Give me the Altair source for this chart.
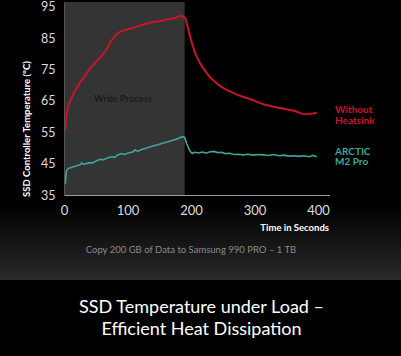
import altair as alt
import pandas as pd

# ---- data ----
red_t = [2, 3, 4, 7, 12, 18, 25, 33, 41, 50, 57, 65, 75, 82, 88, 100, 110, 122, 135, 150, 162, 175, 183, 188, 191,
         195, 198, 202, 206, 210, 214, 222, 230, 238, 246, 254, 261, 270, 280, 288, 298, 306, 314, 322, 330, 340,
         350, 358, 366, 372, 378, 385, 392, 398]
red_v = [55.5, 58, 61, 63.5, 66, 68.5, 70.8, 73, 75.3, 77.3, 78.8, 80.8, 84.3, 86, 87, 87.8, 88.3, 89.2, 89.9, 90.4,
         90.9, 91.4, 92.1, 91.9, 91.3, 88.5, 85.8, 83, 80.5, 78.6, 77.1, 74.6, 72.5, 71, 69.7, 68.7, 68, 67.2, 66.4,
         65.9, 65.2, 64.5, 63.9, 63.5, 63.1, 62.7, 62.3, 62, 61.6, 61.1, 60.7, 60.8, 61, 61.2]

teal_t = [2, 3, 4, 7, 10, 15, 20, 25, 28, 30, 35, 40, 45, 50, 57, 62, 68, 75, 80, 83, 90, 95, 100, 109, 112, 116,
          122, 128, 135, 140, 148, 155, 162, 170, 177, 183, 188, 190, 193, 196, 199, 202, 206, 212, 218, 224, 230,
          236, 242, 248, 254, 261, 268, 275, 282, 290, 298, 306, 314, 322, 330, 338, 346, 354, 362, 370, 378, 386,
          392, 398]
teal_v = [38.5, 41, 42.8, 43.5, 43.7, 44, 44.3, 44.6, 45.2, 44.8, 45, 45.3, 45.2, 45.8, 46.4, 46.2, 46.8, 47.2, 47,
          47.6, 48.2, 47.9, 48.3, 48.8, 49.4, 48.9, 49.5, 49.8, 50.3, 50.6, 51, 51.5, 51.9, 52.4, 52.8, 53.3, 53.6,
          53.3, 51.5, 50, 48.8, 48.3, 48.6, 48.4, 48.7, 48.3, 48.8, 48.9, 48.5, 48.6, 48.2, 48.3, 47.9, 48, 47.8,
          48, 47.7, 47.9, 47.8, 47.6, 47.9, 47.5, 47.7, 47.4, 47.5, 47.3, 47.5, 47.2, 47.6, 47.2]

write_start = [0]
write_end = [190]
write_low = [35]
write_high = [96.5]
y_ticks = [35, 45, 55, 65, 75, 85, 95]
x_ticks = [0, 100, 200, 300, 400]

FONT = "Lato"
RED = "#c8142c"
TEAL = "#3fa69a"

xscale = alt.Scale(domain=[0, 418], nice=False, zero=False)
yscale = alt.Scale(domain=[35, 96.5], nice=False, zero=False)
xaxis = alt.Axis(values=x_ticks, title=None, grid=False, ticks=False, domainColor="#9a9a9a",
                 domainWidth=1.2, labelColor="#dddddd", labelFont=FONT, labelFontSize=13,
                 labelPadding=9, labelFlush=False, labelOverlap=False, zindex=2)
yaxis = alt.Axis(values=y_ticks, title=None, grid=False, ticks=False, domainColor="#555555",
                 labelColor="#dddddd", labelFont=FONT, labelFontSize=12.5, labelPadding=9,
                 labelOverlap=False, zindex=2)

red_df = pd.DataFrame({"t": red_t, "v": red_v})
teal_df = pd.DataFrame({"t": teal_t, "v": teal_v})
band_df = pd.DataFrame({"s": write_start, "e": write_end, "lo": write_low, "hi": write_high})
one = pd.DataFrame({"a": [0]})

# background gradient band (decoration)
bg = alt.Chart(one).mark_rect(
    fill=alt.Gradient(gradient="linear", x1=0, x2=0, y1=0, y2=1,
                      stops=[alt.GradientStop(color="#000000", offset=0),
                             alt.GradientStop(color="#2a2a2a", offset=1)]),
    clip=False,
).encode(x=alt.value(-64), x2=alt.value(337), y=alt.value(203), y2=alt.value(278))

band = alt.Chart(band_df).mark_rect(color="#343434").encode(
    x=alt.X("s:Q", scale=xscale, axis=xaxis),
    x2="e:Q",
    y=alt.Y("lo:Q", scale=yscale, axis=yaxis),
    y2="hi:Q",
)

red_line = alt.Chart(red_df).mark_line(color=RED, strokeWidth=2).encode(
    x=alt.X("t:Q", scale=xscale, axis=xaxis), y=alt.Y("v:Q", scale=yscale, axis=yaxis))
teal_line = alt.Chart(teal_df).mark_line(color=TEAL, strokeWidth=1.6).encode(
    x=alt.X("t:Q", scale=xscale, axis=xaxis), y=alt.Y("v:Q", scale=yscale, axis=yaxis))


def txt(text, x, y, size, color, weight="normal", align="left", angle=None, baseline="middle"):
    kw = dict(text=text, font=FONT, fontSize=size, color=color, fontWeight=weight, align=align,
              baseline=baseline)
    if angle is not None:
        kw["angle"] = angle
    return alt.Chart(one).mark_text(**kw).encode(x=alt.value(x), y=alt.value(y))


texts = [
    txt("Write Process", 59, 97, 9.5, "#151515", align="center"),
    txt("Without", 271, 108, 10, RED, "bold"),
    txt("Heatsink", 271, 118.5, 10, RED, "bold"),
    txt("ARCTIC", 271, 149.5, 10, TEAL, "bold"),
    txt("M2 Pro", 271, 160, 10, TEAL, "bold"),
    txt("SSD Controller Temperature (°C)", -37, 127, 9.5, "#ffffff", "bold", align="center", angle=270),
    txt("Time in Seconds", 265, 226, 9.5, "#ffffff", "bold", align="right"),
    txt("Copy 200 GB of Data to Samsung 990 PRO  – 1 TB", 127, 248, 9.5, "#8a8a8a", align="center"),
    txt("SSD Temperature under Load –", 137.5, 306, 18, "#ffffff", align="center"),
    txt("Efficient Heat Dissipation", 137.5, 328, 18, "#ffffff", align="center"),
]

chart = alt.layer(bg, band, red_line, teal_line, *texts).properties(
    width=265.5, height=193,
    autosize=alt.AutoSizeParams(type="none"),
    padding={"left": 64, "top": 2, "right": 71.5, "bottom": 161},
    background="#000000",
).configure_view(stroke=None)

chart.save("out.html", embed_options={"renderer": "svg", "actions": False})
